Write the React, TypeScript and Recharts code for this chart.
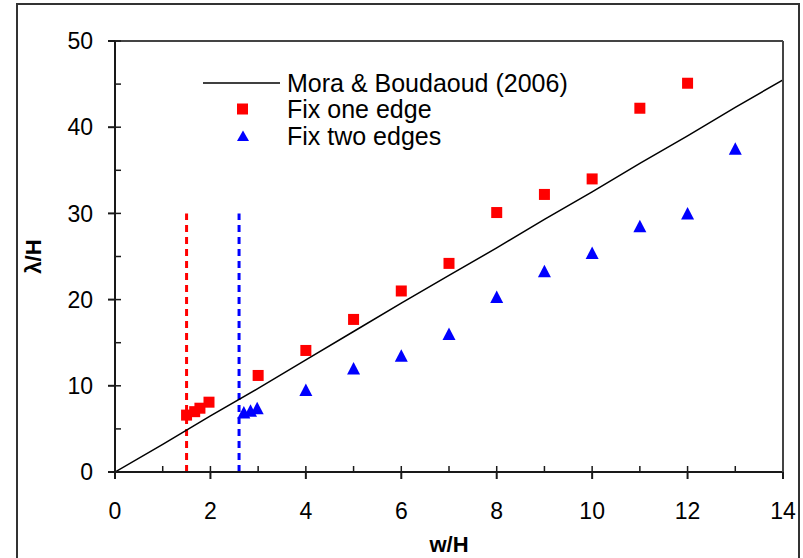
import { ComposedChart, Legend, Line, ReferenceLine, Scatter, XAxis, YAxis } from "recharts";

// Mora & Boudaoud (2006) prediction
const moraW = [0, 1, 2, 3, 4, 5, 6, 7, 8, 9, 10, 11, 12, 13, 14];
const moraL = [0, 3.2, 6.5, 9.7, 13.0, 16.3, 19.6, 22.8, 26.0, 29.3, 32.5, 35.8, 39.0, 42.3, 45.5];

// measured wavelengths, one clamped edge
const oneEdgeW = [1.5, 1.67, 1.78, 1.97, 3, 4, 5, 6, 7, 8, 9, 10, 11, 12];
const oneEdgeL = [6.6, 7.0, 7.4, 8.1, 11.2, 14.1, 17.7, 21.0, 24.2, 30.1, 32.2, 34.0, 42.2, 45.1];

// measured wavelengths, two clamped edges
const twoEdgeW = [2.7, 2.84, 2.98, 4, 5, 6, 7, 8, 9, 10, 11, 12, 13];
const twoEdgeL = [6.9, 7.1, 7.4, 9.5, 12.0, 13.5, 16.0, 20.3, 23.3, 25.4, 28.5, 30.0, 37.5];

// critical widths (dotted markers) and their height
const criticalW = [1.5, 2.6];
const criticalTop = 30;

const xMajor = [0, 2, 4, 6, 8, 10, 12, 14];
const xMinor = [0, 1, 2, 3, 4, 5, 6, 7, 8, 9, 10, 11, 12, 13, 14];
const yMajor = [0, 10, 20, 30, 40, 50];
const yMinor = [0, 5, 10, 15, 20, 25, 30, 35, 40, 45, 50];

const seriesNames = ["Mora & Boudaoud (2006)", "Fix one edge", "Fix two edges"];

const RED = "#ff0000";
const BLUE = "#0000ff";
const AXIS = "#1a1a1a";
const FONT = "'Liberation Sans', Arial, sans-serif";

const mora = moraW.map((x, i) => ({ x, y: moraL[i] }));
const oneEdge = oneEdgeW.map((x, i) => ({ x, y: oneEdgeL[i] }));
const twoEdge = twoEdgeW.map((x, i) => ({ x, y: twoEdgeL[i] }));
const criticalColors = [RED, BLUE];

const Square = ({ cx, cy }: any) => <rect x={cx - 5.5} y={cy - 5.5} width={11} height={11} fill={RED} />;

const Triangle = ({ cx, cy }: any) => (
  <polygon points={`${cx},${cy - 6.5} ${cx + 6.5},${cy + 6} ${cx - 6.5},${cy + 6}`} fill={BLUE} />
);

const Nothing = () => null;
const NoLabel = () => <g />;

const icons: Record<string, (y: number) => JSX.Element> = {
  [seriesNames[0]]: (y) => <line x1={0} x2={77} y1={y} y2={y} stroke="#000" strokeWidth={1.5} />,
  [seriesNames[1]]: (y) => <rect x={34} y={y - 5.5} width={11} height={11} fill={RED} />,
  [seriesNames[2]]: (y) => <polygon points={`40,${y - 5.5} 46,${y + 5} 34,${y + 5}`} fill={BLUE} />,
};

const LegendBox = ({ payload }: any) => {
  const shown = seriesNames.filter((n) => (payload || []).some((p: any) => p.value === n));
  return (
    <div style={{ fontFamily: FONT }}>
      {shown.map((n) => (
        <div key={n} style={{ display: "flex", alignItems: "center", height: 26.3 }}>
          <svg width={84} height={26}>{icons[n](13)}</svg>
          <span style={{ fontSize: 25, lineHeight: "26px", color: "#000" }}>{n}</span>
        </div>
      ))}
    </div>
  );
};

const XTitle = ({ viewBox }: any) => (
  <text
    x={viewBox.x + viewBox.width / 2}
    y={viewBox.y + 72}
    textAnchor="middle"
    dominantBaseline="central"
    fontSize={22}
    fontWeight="bold"
    fontFamily={FONT}
    fill="#000"
  >
    w/H
  </text>
);

const YTitle = ({ viewBox }: any) => {
  const cx = viewBox.x + 33;
  const cy = viewBox.y + viewBox.height / 2;
  return (
    <text
      x={cx}
      y={cy}
      transform={`rotate(-90 ${cx} ${cy})`}
      textAnchor="middle"
      dominantBaseline="central"
      fontSize={22}
      fontWeight="bold"
      fontFamily={FONT}
      fill="#000"
    >
      λ/H
    </text>
  );
};

const tickStyle = { fontSize: 23, fill: "#000", fontFamily: FONT };

export default function App() {
  return (
    <div style={{ position: "absolute", left: 0, top: 0, width: 803, height: 558, overflow: "hidden", background: "#fff" }}>
      <div
        style={{
          position: "absolute",
          left: 16,
          top: 3,
          width: 784,
          height: 600,
          border: "2px solid #333",
          boxSizing: "border-box",
        }}
      />
      <ComposedChart
        width={803}
        height={558}
        margin={{ top: 41, right: 20, bottom: 0, left: 0 }}
        style={{ position: "absolute", left: 0, top: 0 }}
      >
        <XAxis
          xAxisId={0}
          dataKey="x"
          type="number"
          domain={[0, 14]}
          ticks={xMajor}
          allowDataOverflow
          height={86}
          tickSize={7}
          tickMargin={24}
          tick={tickStyle}
          stroke={AXIS}
          strokeWidth={2}
          label={<XTitle />}
        />
        {/* inward ticks and the top/right frame are mirrored axes */}
        <XAxis
          xAxisId="minor"
          dataKey="x"
          type="number"
          domain={[0, 14]}
          ticks={xMinor}
          allowDataOverflow
          mirror
          height={1}
          tickSize={6}
          tick={<NoLabel />}
          stroke={AXIS}
          strokeWidth={1.5}
        />
        <XAxis
          xAxisId="top"
          dataKey="x"
          orientation="top"
          type="number"
          domain={[0, 14]}
          allowDataOverflow
          mirror
          height={1}
          tick={false}
          tickLine={false}
          stroke="#444"
          strokeWidth={2}
        />
        <YAxis
          yAxisId={0}
          type="number"
          domain={[0, 50]}
          ticks={yMajor}
          allowDataOverflow
          width={115}
          tickSize={7}
          tickMargin={15}
          tick={tickStyle}
          stroke={AXIS}
          strokeWidth={2}
          label={<YTitle />}
        />
        <YAxis
          yAxisId="minor"
          type="number"
          domain={[0, 50]}
          ticks={yMinor}
          allowDataOverflow
          mirror
          width={1}
          tickSize={6}
          tick={<NoLabel />}
          stroke={AXIS}
          strokeWidth={1.5}
        />
        <YAxis
          yAxisId="right"
          orientation="right"
          type="number"
          domain={[0, 50]}
          allowDataOverflow
          mirror
          width={1}
          tick={false}
          tickLine={false}
          stroke="#444"
          strokeWidth={2}
        />
        <Scatter
          data={mora}
          dataKey="y"
          xAxisId="minor"
          yAxisId="minor"
          shape={<Nothing />}
          legendType="none"
          isAnimationActive={false}
        />
        <Scatter
          data={mora}
          dataKey="y"
          xAxisId="top"
          yAxisId="right"
          shape={<Nothing />}
          legendType="none"
          isAnimationActive={false}
        />
        {criticalW.map((w, i) => (
          <ReferenceLine
            key={w}
            segment={[
              { x: w, y: 0 },
              { x: w, y: criticalTop },
            ]}
            stroke={criticalColors[i]}
            strokeWidth={3}
            strokeDasharray="7 5"
            ifOverflow="visible"
          />
        ))}
        <Line
          data={mora}
          dataKey="y"
          name={seriesNames[0]}
          type="linear"
          stroke="#000"
          strokeWidth={1.5}
          dot={false}
          activeDot={false}
          isAnimationActive={false}
        />
        <Scatter data={oneEdge} dataKey="y" name={seriesNames[1]} fill={RED} shape={<Square />} isAnimationActive={false} />
        <Scatter data={twoEdge} dataKey="y" name={seriesNames[2]} fill={BLUE} shape={<Triangle />} isAnimationActive={false} />
        <Legend
          layout="vertical"
          align="center"
          verticalAlign="middle"
          content={<LegendBox />}
          wrapperStyle={{ left: 203, top: 70, width: 400 }}
        />
      </ComposedChart>
    </div>
  );
}
